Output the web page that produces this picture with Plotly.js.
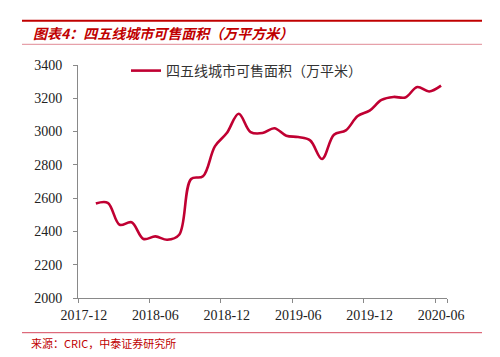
<!DOCTYPE html>
<html>
<head>
<meta charset="utf-8">
<script src="https://cdn.plot.ly/plotly-3.0.1.min.js"></script>
<style>html,body{margin:0;padding:0;background:#fff;}#chart{width:500px;height:357px;}</style>
</head>
<body>
<div id="chart"></div>
<script>
// Categories (months); 2017-12 carries no value
const months = ["2017-12","2018-01","2018-02","2018-03","2018-04","2018-05","2018-06","2018-07","2018-08","2018-09","2018-10","2018-11","2018-12","2019-01","2019-02","2019-03","2019-04","2019-05","2019-06","2019-07","2019-08","2019-09","2019-10","2019-11","2019-12","2020-01","2020-02","2020-03","2020-04","2020-05","2020-06"];
const saleableArea = [null,2568,2572,2440,2455,2355,2370,2350,2380,2715,2731,2911,2991,3107,2997,2991,3020,2975,2967,2947,2835,2981,3007,3093,3126,3190,3208,3205,3268,3241,3276];
const tickLabels = ["2017-12","2018-06","2018-12","2019-06","2019-12","2020-06"];
const seriesName = "四五线城市可售面积（万平米）";
const titleText = "图表4：四五线城市可售面积（万平方米）";
const sourceText = "来源：CRIC，中泰证券研究所";

const W = 500, H = 357;
const mL = 78, mR = 53, mT = 65, mB = 59;
const pw = W - mL - mR, ph = H - mT - mB;
const px = x => (x - mL) / pw;
const py = y => (H - mB - y) / ph;

const red = "#C00032";
const axisGray = "#898989";

const trace = {
  type: "scatter",
  mode: "lines",
  x: months,
  y: saleableArea,
  name: seriesName,
  line: {color: red, width: 2.6, shape: "spline", smoothing: 1},
  connectgaps: false,
  hoverinfo: "skip"
};

const layout = {
  width: W, height: H,
  margin: {l: mL, r: mR, t: mT, b: mB, pad: 0},
  paper_bgcolor: "#fff", plot_bgcolor: "#fff",
  showlegend: true,
  legend: {
    x: px(126), y: py(71), xanchor: "left", yanchor: "middle",
    orientation: "h",
    font: {family: "Noto Sans CJK SC", size: 14, color: "#333"},
    bgcolor: "rgba(0,0,0,0)"
  },
  xaxis: {
    type: "category",
    categoryorder: "array", categoryarray: months,
    range: [-0.5, months.length - 0.5],
    tickmode: "array", tickvals: tickLabels, ticktext: tickLabels,
    tickson: "boundaries",
    tickangle: 0, automargin: false,
    ticks: "outside", ticklen: 4, tickwidth: 1, tickcolor: axisGray,
    showline: true, linecolor: axisGray, linewidth: 1,
    showgrid: false, zeroline: false,
    tickfont: {family: "Liberation Serif", size: 14, color: "#222"},
    ticklabelstandoff: 4,
    fixedrange: true
  },
  yaxis: {
    range: [2000, 3400], dtick: 200, tick0: 2000,
    automargin: false,
    ticks: "outside", ticklen: 4, tickwidth: 1, tickcolor: axisGray,
    showline: true, linecolor: axisGray, linewidth: 1,
    showgrid: false, zeroline: false,
    tickfont: {family: "Liberation Serif", size: 14, color: "#222"},
    ticklabelstandoff: 8,
    fixedrange: true
  },
  shapes: [
    {type: "line", xref: "paper", yref: "paper", x0: px(22), x1: px(482), y0: py(20.7), y1: py(20.7), line: {color: "#C00000", width: 2}},
    {type: "line", xref: "paper", yref: "paper", x0: px(22), x1: px(482), y0: py(44.3), y1: py(44.3), line: {color: "#E08A95", width: 1}},
    {type: "line", xref: "paper", yref: "paper", x0: px(22), x1: px(482), y0: py(332.7), y1: py(332.7), line: {color: "#D6475C", width: 1}}
  ],
  annotations: [
    {text: "<b><i>" + titleText + "</i></b>", xref: "paper", yref: "paper", x: px(31), y: py(33), xanchor: "left", yanchor: "middle", showarrow: false,
     font: {family: "Noto Sans CJK SC", size: 14, color: "#C00000"}},
    {text: sourceText, xref: "paper", yref: "paper", x: px(29), y: py(343), xanchor: "left", yanchor: "middle", showarrow: false,
     font: {family: "Noto Sans CJK SC", size: 11, color: "#C00000"}}
  ]
};

Plotly.newPlot("chart", [trace], layout, {displayModeBar: false, staticPlot: true});
</script>
</body>
</html>
